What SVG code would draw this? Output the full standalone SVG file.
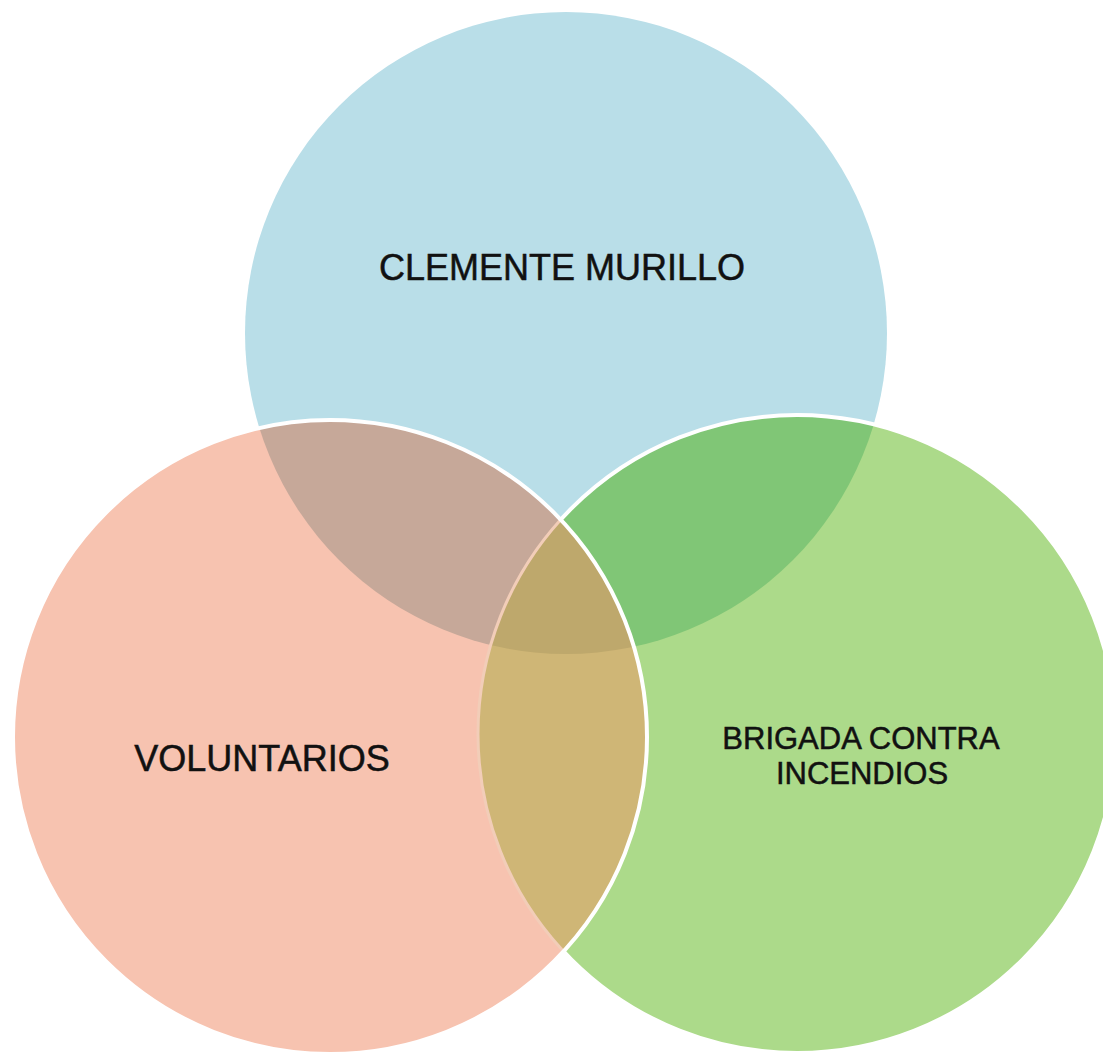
<svg xmlns="http://www.w3.org/2000/svg" width="1103" height="1054" viewBox="0 0 1103 1054">
<style>
.lbl{font-family:"Liberation Sans",Arial,sans-serif;fill:#111111;stroke:#111111;stroke-width:0.5;text-anchor:middle}
.big{font-size:36px}
.mid{font-size:31px}
</style>
<defs>
<clipPath id="cBlue"><circle cx="566" cy="333" r="321"/></clipPath>
<clipPath id="cGreen"><circle cx="797" cy="734" r="319"/></clipPath>
<clipPath id="cPink"><circle cx="330" cy="737" r="317"/></clipPath>
</defs>
<rect width="1103" height="1054" fill="#ffffff"/>
<g id="node-clemente-murillo">
<circle cx="566" cy="333" r="321" fill="#b9dee8"/>
</g>
<g id="node-brigada">
<circle cx="797" cy="734" r="319" fill="#acda8a"/>
<g clip-path="url(#cBlue)"><circle cx="797" cy="734" r="319" fill="#80c676"/></g>
<circle cx="797" cy="734" r="319" fill="none" stroke="#ffffff" stroke-width="4"/>
</g>
<g id="node-voluntarios">
<circle cx="330" cy="737" r="317" fill="#f7c3b0"/>
<g clip-path="url(#cPink)">
<g clip-path="url(#cBlue)"><rect x="0" y="0" width="1103" height="1054" fill="#c6a899"/></g>
<g clip-path="url(#cGreen)"><rect x="0" y="0" width="1103" height="1054" fill="#cfb676"/>
<g clip-path="url(#cBlue)"><rect x="0" y="0" width="1103" height="1054" fill="#bea86c"/></g>
</g>
<circle cx="797" cy="734" r="319" fill="none" stroke="#f2cdb8" stroke-width="3"/>
</g>
<circle cx="330" cy="737" r="317" fill="none" stroke="#ffffff" stroke-width="4"/>
</g>
<g id="labels">
<text class="lbl big" x="562" y="280">CLEMENTE MURILLO</text>
<text class="lbl big" x="262" y="771">VOLUNTARIOS</text>
<text class="lbl mid" x="861" y="749">BRIGADA CONTRA</text>
<text class="lbl mid" x="862" y="784">INCENDIOS</text>
</g>
<g id="connectors"/>
</svg>
